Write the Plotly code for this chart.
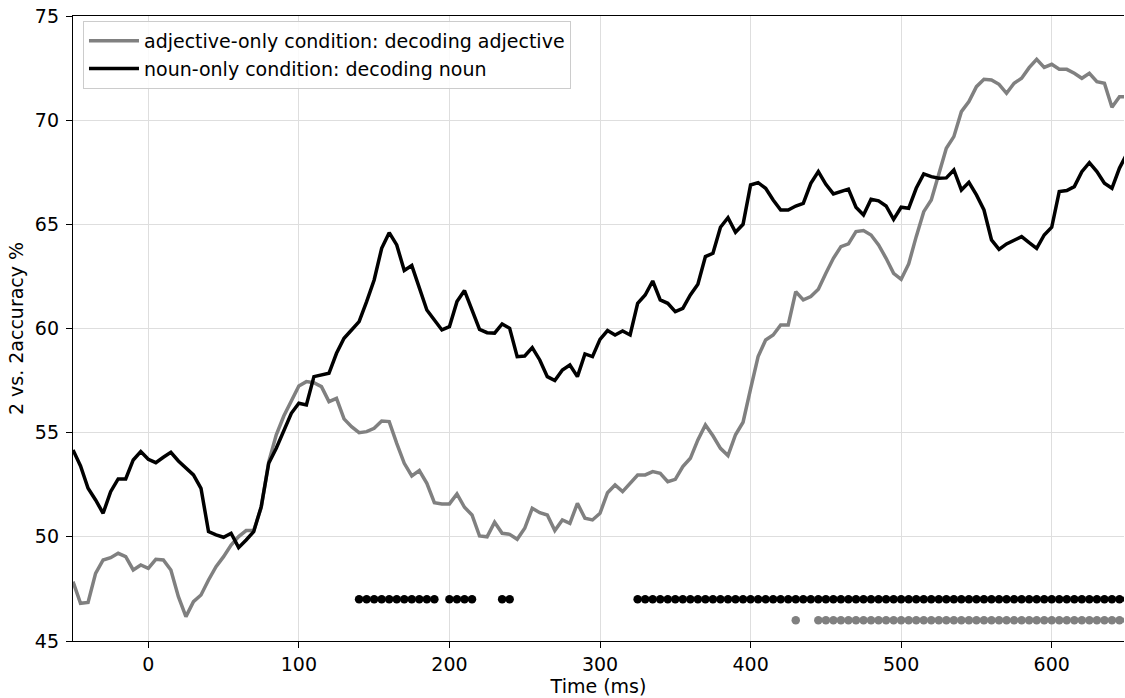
import plotly.graph_objects as go

# ---- data -------------------------------------------------------------
times = list(range(-50, 655, 5))

noun_acc = [
    54.17, 53.40, 52.33, 51.77, 51.13, 52.17, 52.78, 52.78, 53.69, 54.09,
    53.72, 53.56, 53.82, 54.06, 53.64, 53.29, 52.97, 52.33, 50.25, 50.09,
    49.98, 50.17, 49.48, 49.85, 50.25, 51.45, 53.53, 54.25, 55.05, 55.93,
    56.41, 56.33, 57.69, 57.77, 57.85, 58.81, 59.53, 59.93, 60.33, 61.29,
    62.33, 63.85, 64.60, 64.01, 62.78, 63.02, 61.93, 60.89, 60.41, 59.93,
    60.09, 61.29, 61.82, 60.89, 59.96, 59.80, 59.78, 60.22, 60.01, 58.65,
    58.68, 59.08, 58.49, 57.69, 57.50, 58.01, 58.25, 57.69, 58.78, 58.65,
    59.48, 59.90, 59.69, 59.88, 59.69, 61.21, 61.61, 62.28, 61.37, 61.21,
    60.81, 60.97, 61.61, 62.13, 63.45, 63.61, 64.86, 65.32, 64.62, 65.00,
    66.89, 67.00, 66.73, 66.17, 65.69, 65.69, 65.88, 66.01, 66.97, 67.53,
    66.92, 66.46, 66.57, 66.69, 65.82, 65.45, 66.20, 66.13, 65.88, 65.24,
    65.82, 65.77, 66.73, 67.42, 67.29, 67.21, 67.23, 67.61, 66.65, 67.02,
    66.41, 65.69, 64.25, 63.80, 64.06, 64.25, 64.41, 64.12, 63.85, 64.49,
    64.86, 66.57, 66.62, 66.81, 67.53, 67.96, 67.53, 66.97, 66.73, 67.70,
    68.40,
]

adj_acc = [
    47.85, 46.81, 46.85, 48.25, 48.89, 49.00, 49.21, 49.05, 48.41, 48.65,
    48.49, 48.92, 48.89, 48.41, 47.13, 46.17, 46.89, 47.21, 47.93, 48.57,
    49.05, 49.61, 50.01, 50.30, 50.30, 51.40, 53.60, 54.90, 55.80, 56.49,
    57.24, 57.45, 57.40, 57.21, 56.49, 56.65, 55.66, 55.29, 55.00, 55.05,
    55.21, 55.56, 55.53, 54.49, 53.53, 52.92, 53.18, 52.57, 51.64, 51.58,
    51.58, 52.06, 51.42, 51.05, 50.04, 50.00, 50.70, 50.17, 50.12, 49.88,
    50.41, 51.37, 51.16, 51.05, 50.30, 50.81, 50.65, 51.61, 50.89, 50.81,
    51.13, 52.12, 52.49, 52.17, 52.60, 52.97, 52.97, 53.13, 53.05, 52.65,
    52.76, 53.37, 53.77, 54.65, 55.37, 54.85, 54.25, 53.90, 54.90, 55.50,
    57.10, 58.65, 59.45, 59.69, 60.17, 60.17, 61.77, 61.37, 61.53, 61.88,
    62.65, 63.37, 63.93, 64.06, 64.65, 64.70, 64.49, 64.01, 63.37, 62.65,
    62.36, 63.10, 64.41, 65.61, 66.17, 67.45, 68.65, 69.21, 70.41, 70.89,
    71.61, 71.96, 71.93, 71.72, 71.29, 71.77, 72.01, 72.52, 72.92, 72.53,
    72.68, 72.44, 72.44, 72.25, 72.01, 72.25, 71.85, 71.77, 70.62, 71.13,
    71.13,
]

# significant time windows (ms), inclusive
noun_sig_windows = [(140, 190), (200, 215), (235, 240), (325, 650)]
adj_sig_windows = [(430, 430), (445, 650)]
noun_sig_level = 47
adj_sig_level = 46

x_ticks = [0, 100, 200, 300, 400, 500, 600]
y_ticks = [45, 50, 55, 60, 65, 70, 75]

noun_label = "noun-only condition: decoding noun"
adj_label = "adjective-only condition: decoding adjective"


def sig_times(windows):
    return [t for t in times if any(a <= t <= b for a, b in windows)]


noun_sig_t = sig_times(noun_sig_windows)
adj_sig_t = sig_times(adj_sig_windows)

GRAY = "#808080"
FONT = "DejaVu Sans"
FS = 19

fig = go.Figure()
fig.add_trace(go.Scatter(x=times, y=adj_acc, mode="lines", name=adj_label,
                         line=dict(color=GRAY, width=3.5)))
fig.add_trace(go.Scatter(x=times, y=noun_acc, mode="lines", name=noun_label,
                         line=dict(color="black", width=3.5)))
fig.add_trace(go.Scatter(x=noun_sig_t, y=[noun_sig_level] * len(noun_sig_t),
                         mode="markers", marker=dict(color="black", size=8.5),
                         showlegend=False))
fig.add_trace(go.Scatter(x=adj_sig_t, y=[adj_sig_level] * len(adj_sig_t),
                         mode="markers", marker=dict(color=GRAY, size=8.5),
                         showlegend=False))

axis_common = dict(
    showline=True, linecolor="black", linewidth=1.3,
    ticks="outside", ticklen=6, tickwidth=1.3, tickcolor="black",
    showgrid=True, gridcolor="#dedede", gridwidth=1.4,
    zeroline=False,
    tickfont=dict(family=FONT, size=FS, color="black"),
)

fig.update_xaxes(range=[-50, 648], tickvals=x_ticks, mirror=True,
                 title=dict(text="Time (ms)", font=dict(family=FONT, size=FS, color="black"),
                            standoff=5),
                 **axis_common)
fig.update_yaxes(range=[45, 75], tickvals=y_ticks, mirror=False,
                 ticklabelstandoff=3,
                 title=dict(text="2 vs. 2accuracy %", font=dict(family=FONT, size=FS, color="black"),
                            standoff=6),
                 **axis_common)

fig.update_layout(
    width=1125, height=698,
    margin=dict(l=73, r=1, t=16, b=57, autoexpand=False),
    paper_bgcolor="white", plot_bgcolor="white",
    font=dict(family=FONT, size=FS, color="black"),
    legend=dict(x=0.0095, y=0.992, xanchor="left", yanchor="top",
                bgcolor="rgba(255,255,255,0.85)", bordercolor="#cccccc", borderwidth=1,
                font=dict(family=FONT, size=FS, color="black"),
                itemwidth=50, traceorder="normal"),
    showlegend=True,
)

fig.write_html("out.html")
